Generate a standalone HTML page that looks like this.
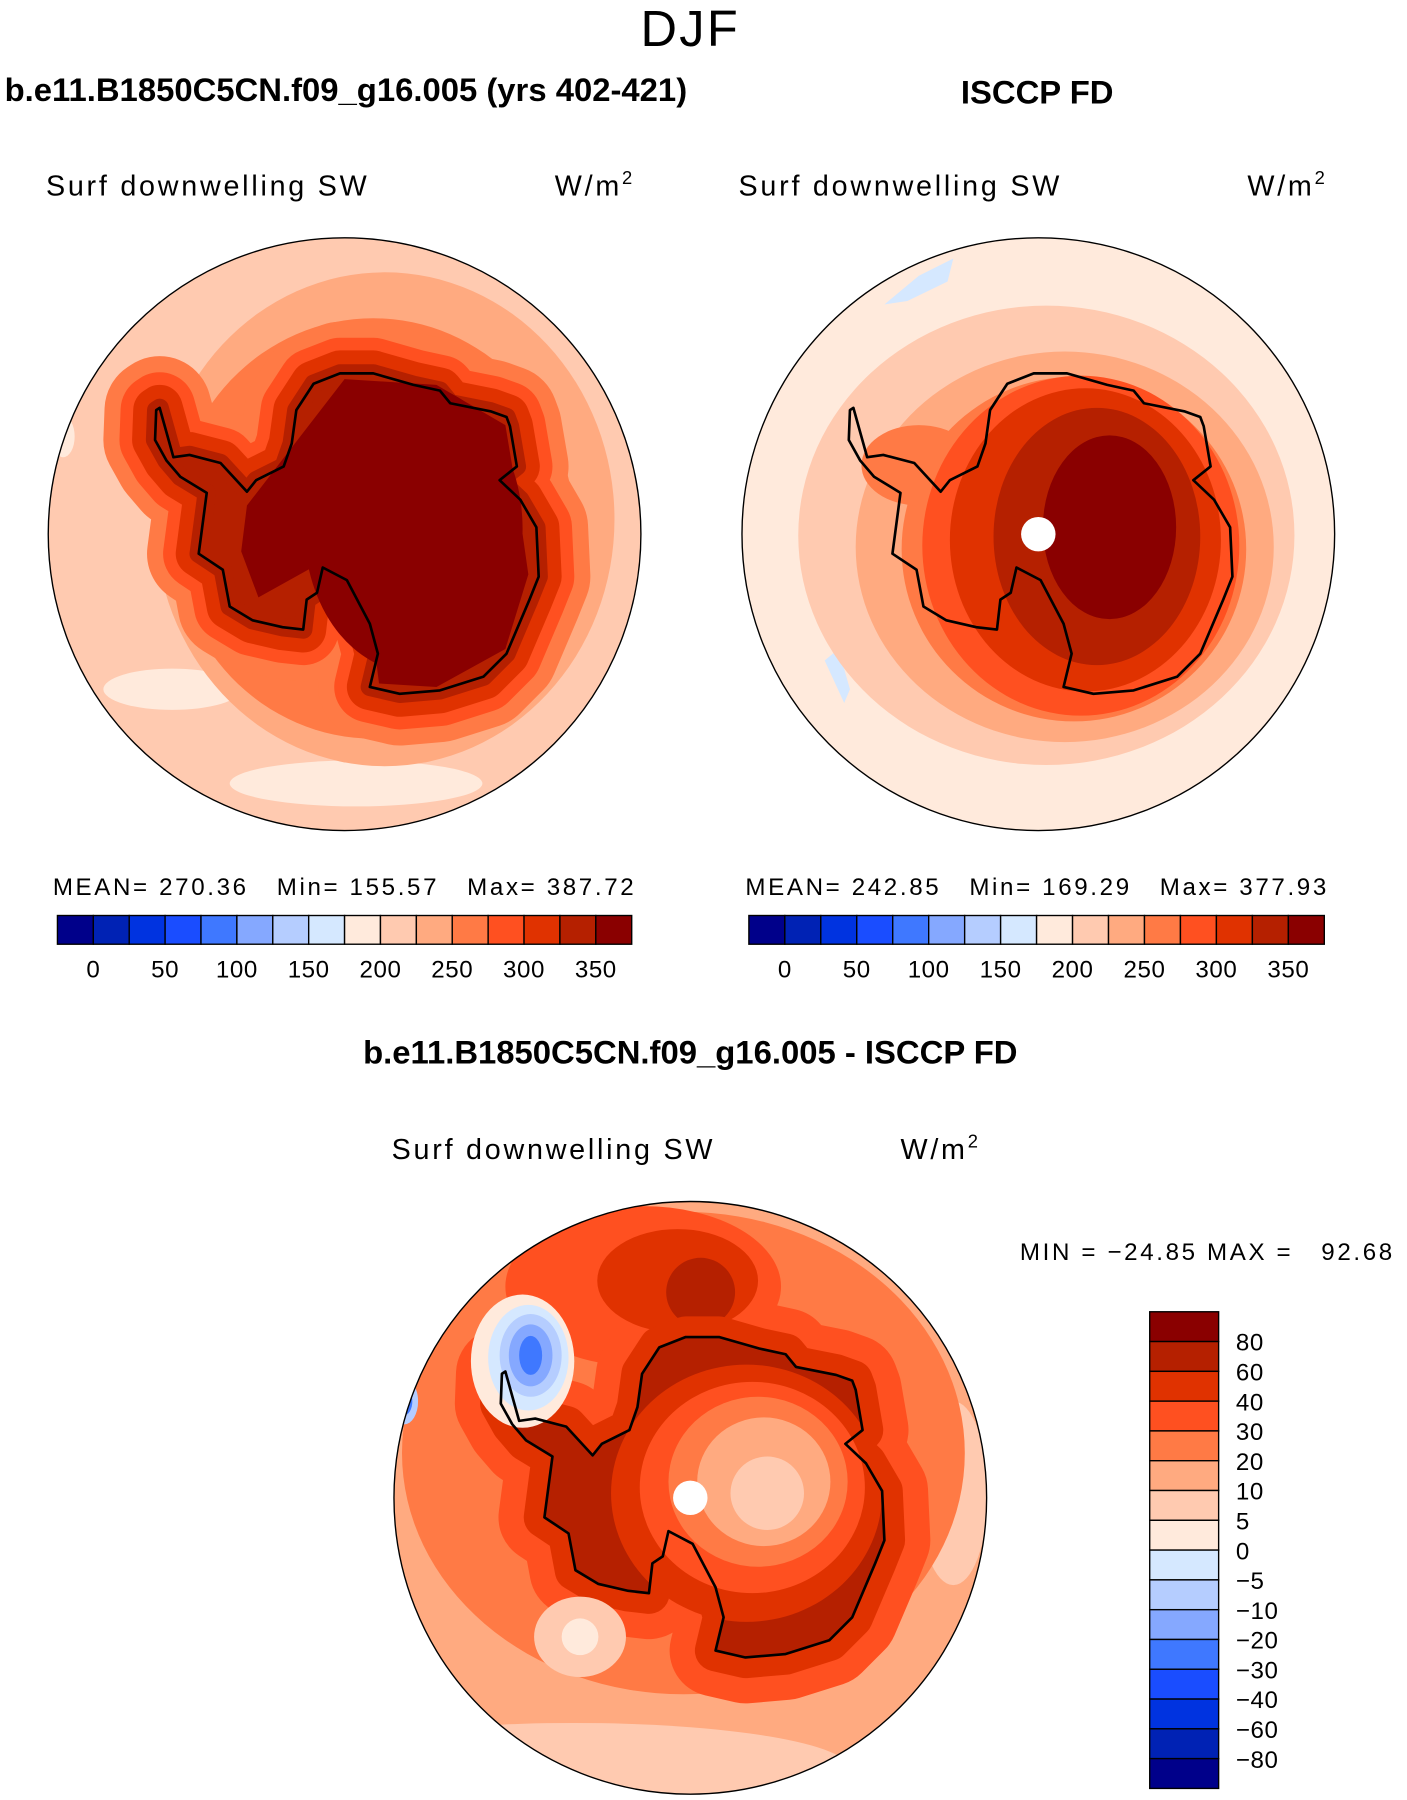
<!DOCTYPE html>
<html><head><meta charset="utf-8"><style>
html,body{margin:0;padding:0;background:#fff}
svg{display:block}
text{font-family:"Liberation Sans",sans-serif;fill:#000}
.t{font-size:25px;letter-spacing:2.4px}
.s{font-size:21px;letter-spacing:2.3px}
.l{font-size:21px;letter-spacing:0.5px}
.b{font-size:28.6px;font-weight:bold}
</style></head><body>
<svg id="fig" width="1407" height="1800" viewBox="0 0 1225 1567" xmlns="http://www.w3.org/2000/svg">
<defs>
<clipPath id="c1"><circle cx="300" cy="465" r="258"/></clipPath>
<clipPath id="c2"><circle cx="904" cy="465" r="258"/></clipPath>
<clipPath id="c3"><circle cx="601" cy="1304" r="258"/></clipPath>
</defs>
<text x="601" y="40" text-anchor="middle" style="font-size:44px;letter-spacing:2px">DJF</text>
<text class="b" x="4" y="88">b.e11.B1850C5CN.f09_g16.005 (yrs 402-421)</text>
<text class="b" x="903" y="90" text-anchor="middle">ISCCP FD</text>
<text class="b" x="601" y="926" text-anchor="middle">b.e11.B1850C5CN.f09_g16.005 - ISCCP FD</text>

<g>
<text class="t" x="40" y="170">Surf downwelling SW</text>
<text class="t" x="483" y="170">W/m<tspan dy="-10" font-size="16">2</tspan></text></g>
<g>
<text class="t" x="643" y="170">Surf downwelling SW</text>
<text class="t" x="1086" y="170">W/m<tspan dy="-10" font-size="16">2</tspan></text></g>
<g>
<text class="t" x="341" y="1009">Surf downwelling SW</text>
<text class="t" x="784" y="1009">W/m<tspan dy="-10" font-size="16">2</tspan></text></g>

<g id="m1" clip-path="url(#c1)"></g>
<g id="m2" clip-path="url(#c2)"></g>
<g id="m3" clip-path="url(#c3)"></g>

<text class="s" x="46" y="779" xml:space="preserve">MEAN= 270.36   Min= 155.57   Max= 387.72</text>
<text class="s" x="649" y="779" xml:space="preserve">MEAN= 242.85   Min= 169.29   Max= 377.93</text>
<text class="s" x="888" y="1097" xml:space="preserve">MIN = −24.85 MAX =   92.68</text>
<g id="cb1"></g>
<g id="cb2"></g>
<g id="cb3"></g>
</svg>
<script>
const colors=["#00008a","#0022b4","#0033e0","#1a4dff","#3f78ff","#85a8ff","#b5cdff","#d5e8ff","#ffeadc","#ffcab0","#ffaa80","#ff7a45","#ff5020","#e03200","#b52000","#8a0000"];
const absTicks=["0","50","100","150","200","250","300","350"];
const diffTicks=["80","60","40","30","20","10","5","0","−5","−10","−20","−30","−40","−60","−80"];
const NS="http://www.w3.org/2000/svg";
function mk(parent,tag,attrs){const e=document.createElementNS(NS,tag);for(const k in attrs)e.setAttribute(k,attrs[k]);parent.appendChild(e);return e;}
const coast=[[139,355],[151,398],[165,396],[192,403],[215,428],[223,418],[247,406],[254,386],[258,357],[273,334],[296,325],[325,325],[360,335],[383,340],[392,351],[427,358],[441,363],[444,371],[450,406],[435,418],[453,435],[467,459],[469,502],[461,522],[441,569],[421,589],[383,601],[348,604],[322,598],[329,569],[322,543],[302,505],[281,494],[276,516],[267,522],[264,548],[246,546],[220,540],[200,528],[194,496],[173,482],[180,429],[157,415],[145,401],[135,383],[136,357]];
function shape(g,dx,dy,fill,stroke,sw){
  const pts=coast.map(p=>[(p[0]+dx).toFixed(1),(p[1]+dy).toFixed(1)].join(',')).join(' ');
  return mk(g,'polygon',{points:pts,fill:fill||'none',stroke:stroke||'none','stroke-width':sw||2,'stroke-linejoin':'round'});
}
function disc(g,cx,cy,bg){mk(g,'rect',{x:cx-260,y:cy-260,width:520,height:520,fill:bg});}
function ell(g,cx,cy,rx,ry,f){mk(g,'ellipse',{cx,cy,rx,ry,fill:f});}
// map 1
const m1=document.getElementById('m1');disc(m1,300,465,colors[9]);
ell(m1,310,682,110,20,colors[8]);ell(m1,150,600,60,18,colors[8]);ell(m1,55,380,10,18,colors[8]);
ell(m1,335,452,200,215,colors[10]);
ell(m1,325,460,175,183,colors[11]);
shape(m1,0,0,colors[11],colors[11],90);
shape(m1,0,0,colors[12],colors[12],62);
shape(m1,0,0,colors[13],colors[13],40);
shape(m1,0,0,colors[14],colors[14],16);
ell(m1,360,460,95,125,colors[15]);
mk(m1,'polygon',{points:"215,440 300,330 380,335 440,370 450,430 460,500 440,565 380,598 330,595 325,555 300,490 270,495 225,520 210,480",fill:colors[15]});
shape(m1,0,0,null,'#000',2.3);
// map 2
const m2=document.getElementById('m2');disc(m2,904,465,colors[8]);
mk(m2,'polygon',{points:"770,265 800,240 830,225 825,245 790,262",fill:colors[7]});
mk(m2,'polygon',{points:"718,575 730,565 740,600 735,612",fill:colors[7]});
ell(m2,911,466,216,200,colors[9]);
ell(m2,927,476,182,170,colors[10]);
ell(m2,935,478,150,150,colors[11]);ell(m2,800,405,50,35,colors[11]);
ell(m2,941,475,138,148,colors[12]);
ell(m2,945,470,118,132,colors[13]);
ell(m2,955,467,90,112,colors[14]);
ell(m2,966,459,58,80,colors[15]);
shape(m2,604,0,null,'#000',2.3);
mk(m2,'circle',{cx:904,cy:465,r:15,fill:'#fff'});
// map 3
const m3=document.getElementById('m3');disc(m3,601,1304,colors[10]);
ell(m3,500,1540,240,40,colors[9]);ell(m3,830,1300,30,80,colors[9]);
ell(m3,595,1265,245,210,colors[11]);
ell(m3,560,1120,120,70,colors[12]);
shape(m3,301,839,colors[12],colors[12],80);
ell(m3,590,1115,70,45,colors[13]);ell(m3,610,1125,30,30,colors[14]);
shape(m3,301,839,colors[13],colors[13],36);
shape(m3,301,839,colors[14]);
ell(m3,650,1300,118,112,colors[13]);
ell(m3,655,1295,98,92,colors[12]);
ell(m3,660,1290,78,74,colors[11]);
ell(m3,665,1290,58,56,colors[10]);
ell(m3,668,1300,32,32,colors[9]);
ell(m3,505,1425,40,35,colors[9]);ell(m3,505,1425,16,16,colors[8]);
ell(m3,455,1185,45,58,colors[8]);ell(m3,460,1182,35,46,colors[7]);ell(m3,462,1180,27,36,colors[6]);ell(m3,462,1180,19,27,colors[5]);ell(m3,462,1180,10,17,colors[4]);
ell(m3,352,1220,12,20,colors[6]);ell(m3,352,1220,7,12,colors[4]);
shape(m3,301,839,null,'#000',2.3);
mk(m3,'circle',{cx:601,cy:1304,r:15,fill:'#fff'});
[[300,465],[904,465],[601,1304]].forEach(c=>{mk(document.getElementById('fig'),'circle',{cx:c[0],cy:c[1],r:258,fill:'none',stroke:'#000','stroke-width':1.2});});
function hbar(id,x0,x1,y0,y1,ly){
  const g=document.getElementById(id);const w=(x1-x0)/colors.length;
  colors.forEach((c,i)=>{const r=mk(g,'rect',{x:x0+i*w,y:y0,width:w,height:y1-y0,fill:c,stroke:'#000','stroke-width':1.2});
  
  });
  absTicks.forEach((t,i)=>{const e=mk(g,'text',{x:x0+w*(1+2*i),y:ly,'text-anchor':'middle',class:'l'});e.textContent=t;
  
  });
}
hbar('cb1',50,550,797,822,851);
hbar('cb2',652,1153,797,822,851);
(function(){const g=document.getElementById('cb3');const y0=1142,y1=1557,x0=1001,x1=1061;const h=(y1-y0)/16;
  colors.slice().reverse().forEach((c,i)=>{const r=mk(g,'rect',{x:x0,y:y0+i*h,width:x1-x0,height:h,fill:c,stroke:'#000','stroke-width':1.2});
  
  });
  diffTicks.forEach((t,i)=>{const e=mk(g,'text',{x:1076,y:y0+(i+1)*h+8,class:'l'});e.textContent=t;
  
  });
})();
</script>
</body></html>
